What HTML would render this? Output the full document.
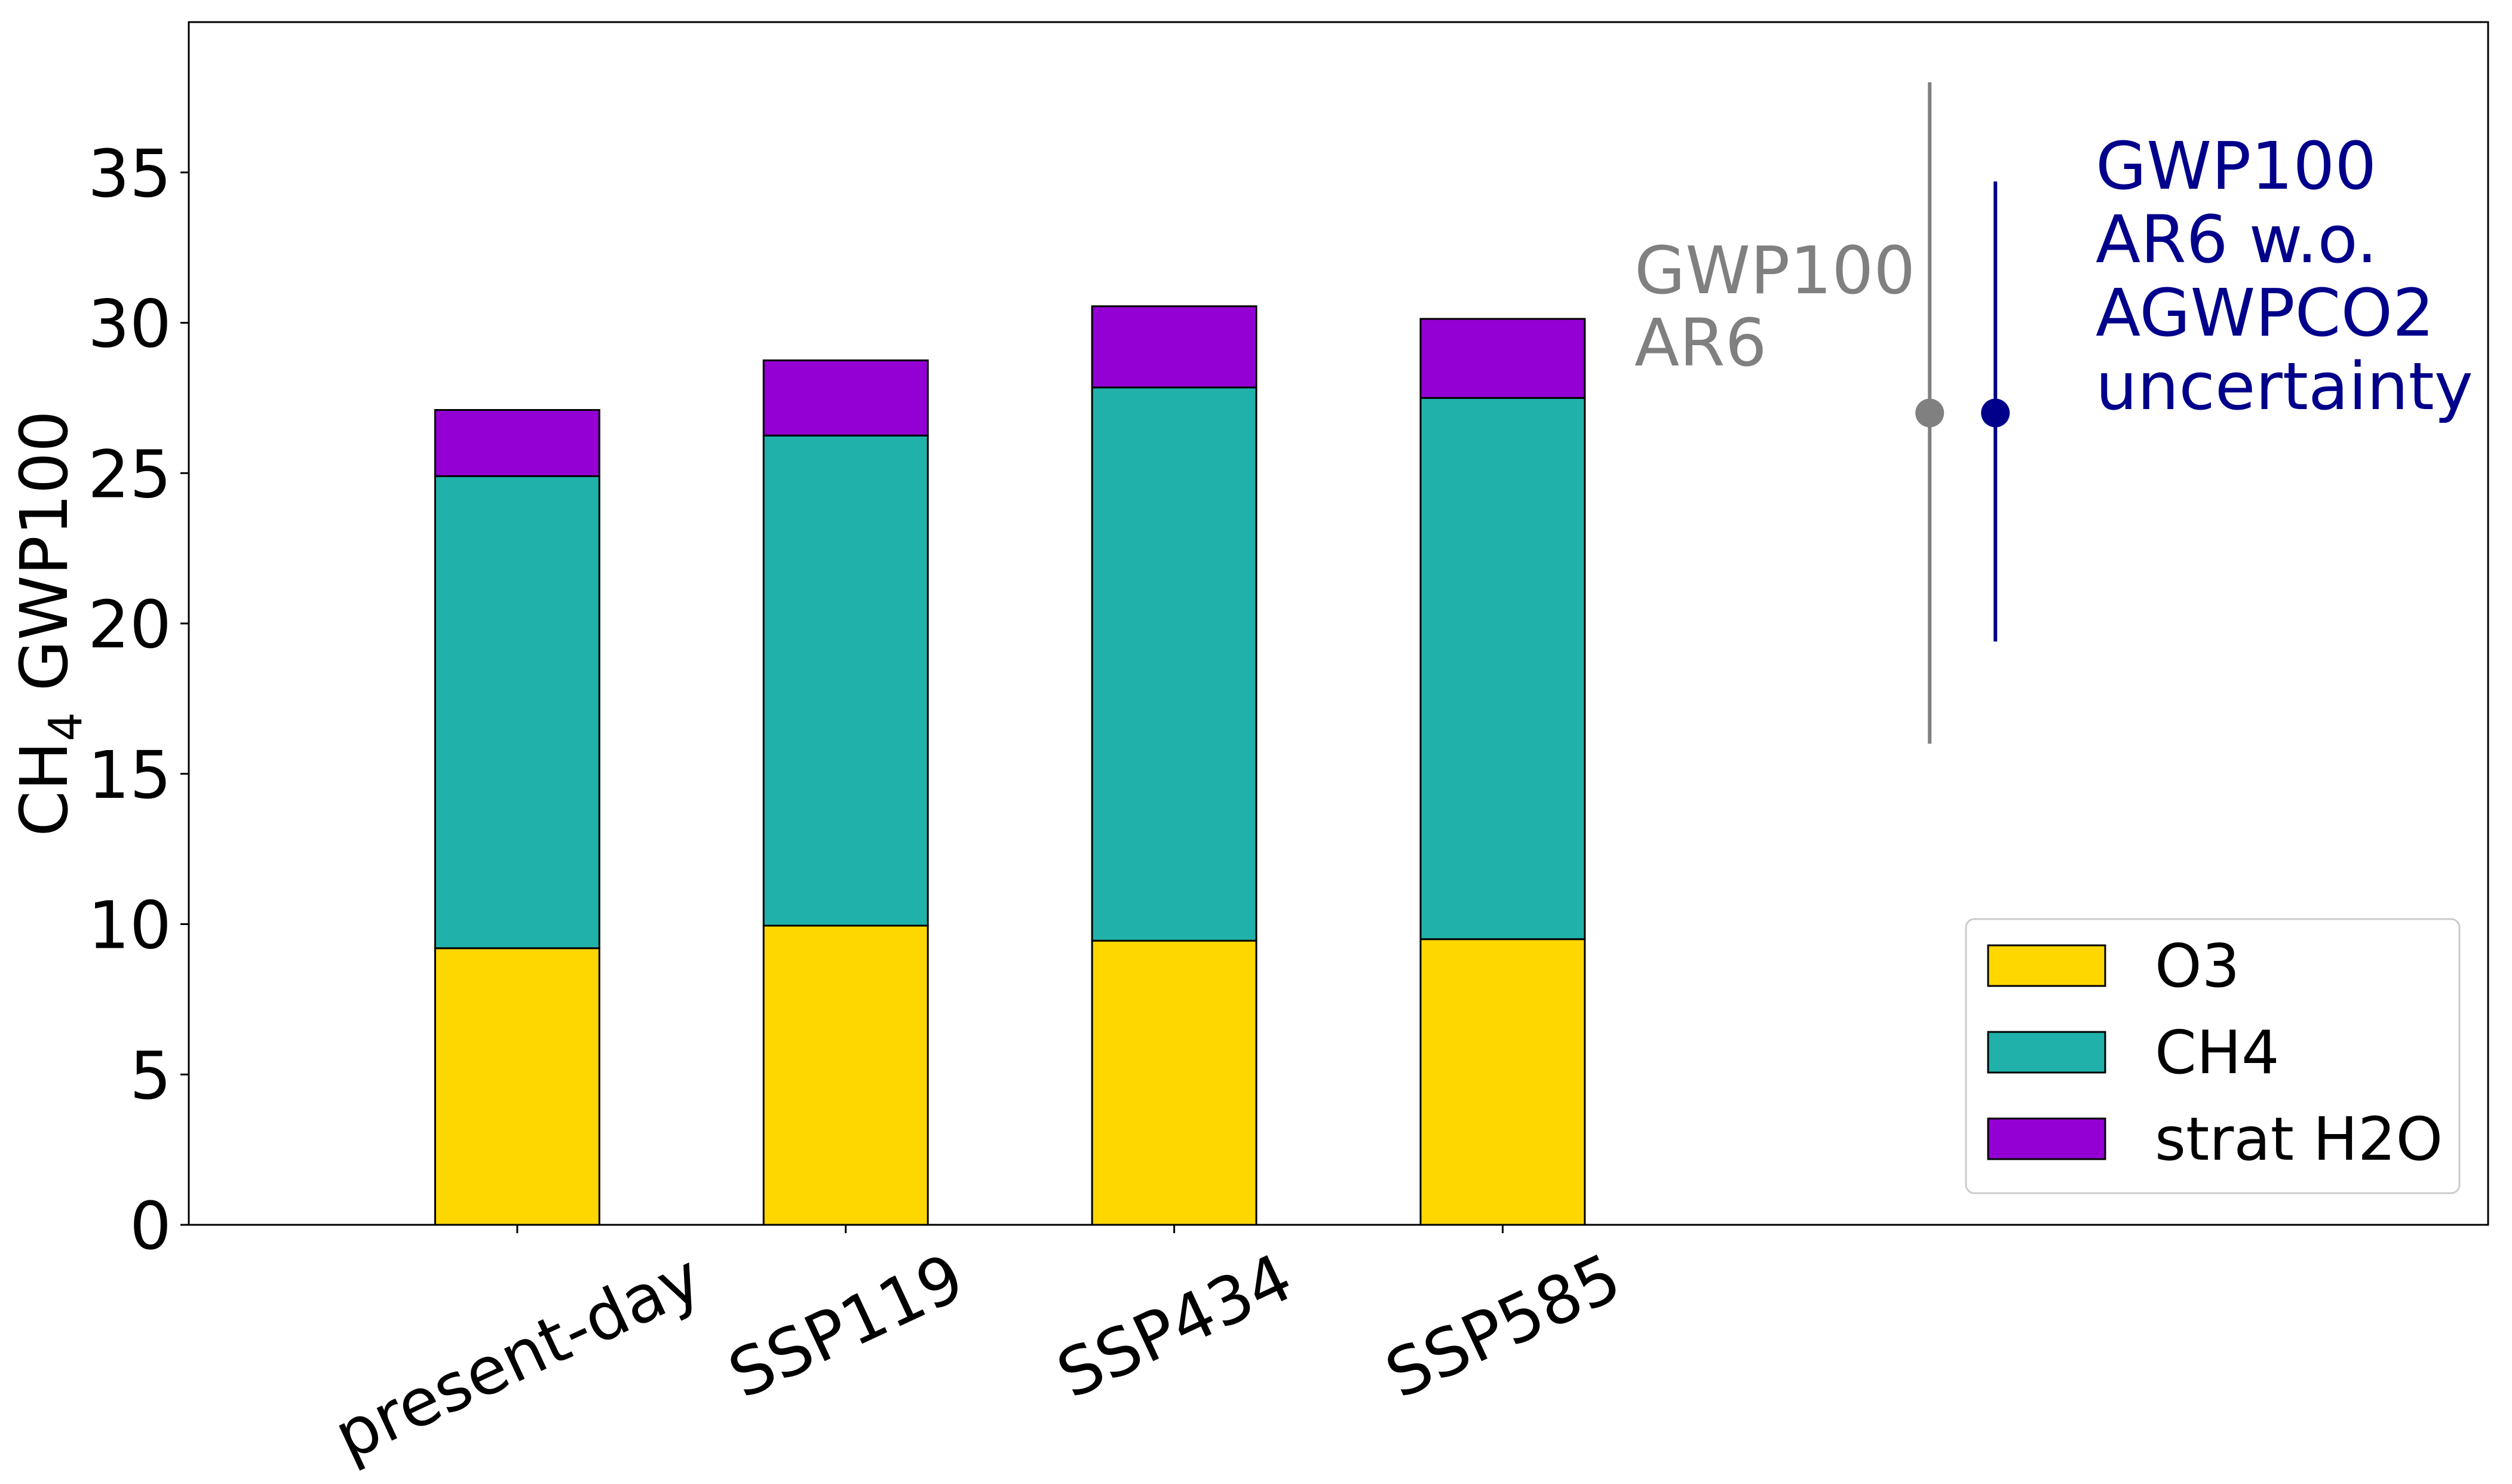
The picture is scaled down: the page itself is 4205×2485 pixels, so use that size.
<!DOCTYPE html>
<html><head><meta charset="utf-8"><style>
html,body{margin:0;padding:0;background:#fff;}
svg{display:block;font-family:"DejaVu Sans","Liberation Sans",sans-serif;}
</style></head><body>
<svg id="chart" width="4205" height="2485" viewBox="0 0 4205 2485" xmlns="http://www.w3.org/2000/svg">
<rect x="0" y="0" width="4205" height="2485" fill="#fff"/>
<g id="bars"></g>
<g id="err"></g>
<rect x="316" y="37" width="3849" height="2014" fill="none" stroke="#000" stroke-width="3"/>
<g id="yticks"></g>
<g id="xticks"></g>
<text transform="translate(112,1044) rotate(-90)" text-anchor="middle" font-size="110" fill="#000">CH<tspan font-size="77" dy="24">4</tspan><tspan dy="-24"> GWP100</tspan></text>
<text x="2736" y="491" font-size="110" fill="#808080"><tspan x="2736">GWP100</tspan><tspan x="2736" dy="121">AR6</tspan></text>
<text x="3508" y="316" font-size="110" fill="#00008b"><tspan x="3508">GWP100</tspan><tspan x="3508" dy="123">AR6 w.o.</tspan><tspan x="3508" dy="123">AGWPCO2</tspan><tspan x="3508" dy="123">uncertainty</tspan></text>
<g>
<rect x="3291" y="1539" width="826" height="459" rx="14" fill="#fff" stroke="#ccc" stroke-width="3"/>
<rect x="3328" y="1583" width="196" height="68" fill="#ffd700" stroke="#000" stroke-width="3"/>
<text x="3607" y="1652" font-size="100">O3</text>
<rect x="3328" y="1728" width="196" height="68" fill="#20b2aa" stroke="#000" stroke-width="3"/>
<text x="3607" y="1797" font-size="100">CH4</text>
<rect x="3328" y="1873" width="196" height="68" fill="#9400d3" stroke="#000" stroke-width="3"/>
<text x="3607" y="1942" font-size="100">strat H2O</text>
</g>
</svg>
<script>
const categories = ["present-day","SSP119","SSP434","SSP585"];
const o3 = [9.2, 9.95, 9.45, 9.5];
const ch4 = [15.7, 16.3, 18.4, 18.0];
const h2o = [2.2, 2.5, 2.7, 2.63];
const yTicks = [0,5,10,15,20,25,30,35];
const errX = [4.3, 4.5];
const errCenter = [27, 27];
const errLow = [16, 19.4];
const errHigh = [38, 34.7];
const errColors = ["#808080","#00008b"];
const NS = "http://www.w3.org/2000/svg";
const X0 = 316, X1 = 4165, Y0 = 2051, Y1 = 37;
function xs(v){ return X0 + (v + 1) / 7 * (X1 - X0); }
function ys(v){ return Y0 - v / 40 * (Y0 - Y1); }
function mk(tag, attrs, parent){ const e = document.createElementNS(NS, tag); for (const k in attrs) e.setAttribute(k, attrs[k]); parent.appendChild(e); return e; }
const gb = document.getElementById("bars");
const series = [[o3,"#ffd700","o3"],[ch4,"#20b2aa","ch4"],[h2o,"#9400d3","strat-h2o"]];
categories.forEach((c, i) => {
  let base = 0;
  series.forEach(s => {
    const v = s[0][i];
    const r = mk("rect", {x: xs(i - 0.25), y: ys(base + v), width: xs(i + 0.25) - xs(i - 0.25), height: ys(base) - ys(base + v), fill: s[1], stroke: "#000", "stroke-width": 3}, gb);
    
    
    base += v;
  });
});
const ge = document.getElementById("err");
errX.forEach((x, i) => {
  const l = mk("line", {x1: xs(x), x2: xs(x), y1: ys(errLow[i]), y2: ys(errHigh[i]), stroke: errColors[i], "stroke-width": 6}, ge);
  
  
  const c = mk("circle", {cx: xs(x), cy: ys(errCenter[i]), r: 24, fill: errColors[i]}, ge);
  
  
});
const gy = document.getElementById("yticks");
yTicks.forEach(t => {
  const l = mk("line", {x1: 302, x2: 316, y1: ys(t), y2: ys(t), stroke: "#000", "stroke-width": 3}, gy);
  
  
  const tx = mk("text", {x: 287, y: ys(t) + 40, "text-anchor": "end", "font-size": 110}, gy);
  tx.textContent = t;
  
  
});
const gx = document.getElementById("xticks");
categories.forEach((c, i) => {
  const l = mk("line", {x1: xs(i), x2: xs(i), y1: 2051, y2: 2065, stroke: "#000", "stroke-width": 3}, gx);
  
  
  const tx = mk("text", {"text-anchor": "middle", "font-size": 110}, gx);
  tx.textContent = c;
  
  
  const w = tx.getComputedTextLength();
  const hh = (w * Math.sin(25 * Math.PI / 180) + 110 * Math.cos(25 * Math.PI / 180)) / 2;
  const cy = 2051 + 30 + hh;
  tx.setAttribute("transform", "translate(" + xs(i) + "," + cy + ") rotate(-25)");
  tx.setAttribute("y", 40);
});
</script>
</body></html>
